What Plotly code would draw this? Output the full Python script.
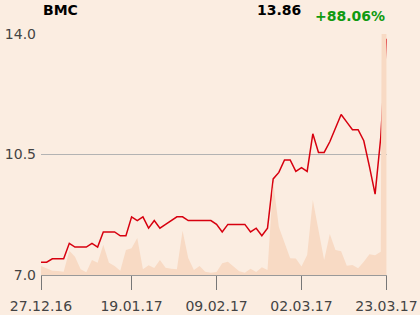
import plotly.graph_objects as go

title = "BMC"
last_price = "13.86"
change = "+88.06%"

tick_positions = [0, 16, 31, 46, 61]
tick_labels = ["27.12.16", "19.01.17", "09.02.17", "02.03.17", "23.03.17"]

prices = [7.37, 7.37, 7.47, 7.47, 7.47, 7.92, 7.81, 7.81, 7.81, 7.92,
          7.81, 8.25, 8.25, 8.25, 8.14, 8.14, 8.69, 8.58, 8.69, 8.36,
          8.58, 8.36, 8.47, 8.58, 8.69, 8.69, 8.58, 8.58, 8.58, 8.58,
          8.58, 8.47, 8.25, 8.47, 8.47, 8.47, 8.47, 8.25, 8.36, 8.14,
          8.36, 9.79, 9.98, 10.34, 10.34, 10.01, 10.12, 10.01, 11.10, 10.56,
          10.56, 10.87, 11.29, 11.66, 11.44, 11.22, 11.22, 10.90, 10.15, 9.35,
          11.0, 13.86]

volumes = [9, 6.3, 4.3, 4, 3.3, 24.3, 18.3, 5.7, 2.7, 15,
           12.3, 30.3, 12.3, 9, 4.3, 25, 26.7, 37, 5.7, 9.7,
           7, 15, 7.3, 6.3, 5.7, 44.3, 17, 5, 9, 3.3,
           2.3, 3, 11.7, 13.3, 8.3, 3.7, 2.3, 6.3, 3, 7.7,
           5, 93, 48, 32, 16.7, 16.5, 8.5, 20, 75, 45,
           15, 41, 25, 23.7, 9.3, 10, 6.7, 13.3, 20.7, 19.7,
           23.3, 1500]

idx = list(range(len(prices)))

BG = "#fbede1"
FONT = "DejaVu Sans"

fig = go.Figure()
fig.add_trace(go.Scatter(x=idx, y=volumes, yaxis="y2", mode="lines",
                         line=dict(width=0, color="#f8dac4"),
                         fill="tozeroy", fillcolor="#f8dac4",
                         hoverinfo="skip", showlegend=False))
fig.add_trace(go.Scatter(x=idx, y=prices, mode="lines",
                         line=dict(color="#d7000f", width=1.5),
                         showlegend=False))

fig.update_layout(
    width=420, height=315,
    margin=dict(l=41, r=33, t=34, b=40, autoexpand=False),
    paper_bgcolor=BG, plot_bgcolor=BG,
    font=dict(family=FONT, size=14, color="#444444"),
    xaxis=dict(range=[0, 61.1], tickvals=tick_positions, ticktext=tick_labels,
               showgrid=False, zeroline=False, showline=True,
               linecolor="#999999", linewidth=1, automargin=False,
               ticks="outside", ticklen=14, tickcolor="#777777", tickwidth=1,
               ticklabelstandoff=4,
               tickfont=dict(size=14, color="#444444")),
    yaxis=dict(range=[7, 14], tickvals=[7, 10.5, 14],
               ticktext=["7.0", "10.5", "14.0"], automargin=False,
               showgrid=True, gridcolor="#b3b3b3", gridwidth=1,
               zeroline=False, showline=False, ticks="",
               ticklabelstandoff=4,
               tickfont=dict(size=14, color="#444444")),
    yaxis2=dict(range=[0, 241], overlaying="y", visible=False),
    annotations=[
        dict(text="<b>" + title + "</b>", xref="paper", yref="paper",
             x=0, y=1 + 24 / 241, xanchor="left", yanchor="middle",
             showarrow=False, font=dict(size=14, color="#000000")),
        dict(text="<b>" + last_price + "</b>", xref="paper", yref="paper",
             x=(303 - 41) / 346, y=1 + 24 / 241, xanchor="right", yanchor="middle",
             showarrow=False, font=dict(size=14, color="#000000")),
        dict(text="<b>" + change + "</b>", xref="paper", yref="paper",
             x=(387 - 41) / 346, y=1 + 18 / 241, xanchor="right", yanchor="middle",
             showarrow=False, font=dict(size=14, color="#109a10")),
    ],
)

fig.write_html("out.html")
